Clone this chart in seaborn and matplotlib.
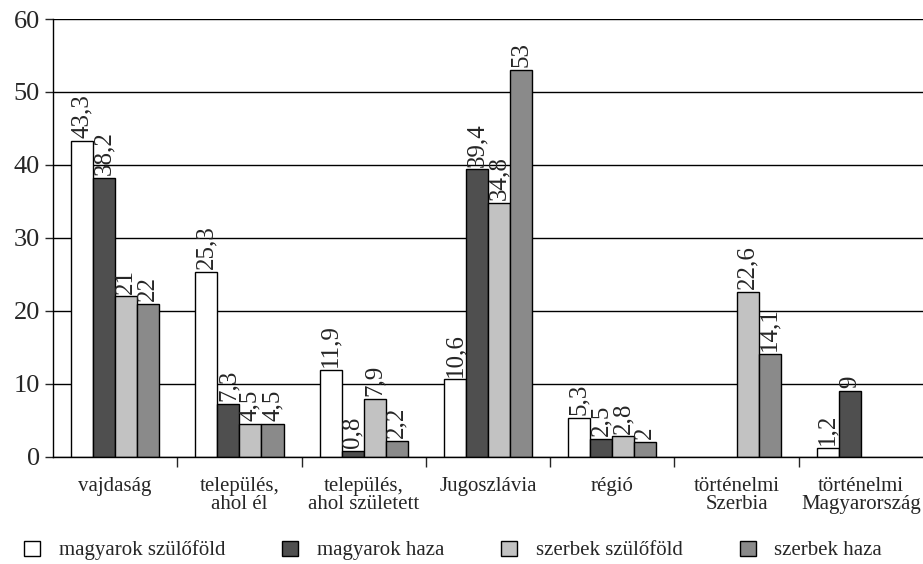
import numpy as np
import pandas as pd
import matplotlib
matplotlib.use("Agg")
import matplotlib.pyplot as plt
import seaborn as sns
from matplotlib.ticker import FixedLocator

categories = ["vajdaság", "település,\nahol él", "település,\nahol született",
              "Jugoszlávia", "régió", "történelmi\nSzerbia", "történelmi\nMagyarország"]
series = ["magyarok szülőföld", "magyarok haza", "szerbek szülőföld", "szerbek haza"]

magyar_szulofold = [43.3, 25.3, 11.9, 10.6, 5.3, np.nan, 1.2]
magyar_haza = [38.2, 7.3, 0.8, 39.4, 2.5, np.nan, 9]
szerb_szulofold = [22, 4.5, 7.9, 34.8, 2.8, 22.6, np.nan]
szerb_haza = [21, 4.5, 2.2, 53, 2, 14.1, np.nan]

# labels as printed on the chart (the vajdaság ones are swapped in the original)
magyar_szulofold_lbl = ["43,3", "25,3", "11,9", "10,6", "5,3", "", "1,2"]
magyar_haza_lbl = ["38,2", "7,3", "0,8", "39,4", "2,5", "", "9"]
szerb_szulofold_lbl = ["21", "4,5", "7,9", "34,8", "2,8", "22,6", ""]
szerb_haza_lbl = ["22", "4,5", "2,2", "53", "2", "14,1", ""]

colors = ["#ffffff", "#4f4f4f", "#c2c2c2", "#8a8a8a"]

rows = []
for name, vals, lbls in zip(series,
                            [magyar_szulofold, magyar_haza, szerb_szulofold, szerb_haza],
                            [magyar_szulofold_lbl, magyar_haza_lbl, szerb_szulofold_lbl, szerb_haza_lbl]):
    for cat, v, l in zip(categories, vals, lbls):
        rows.append({"kategoria": cat, "sorozat": name, "ertek": v, "cimke": l})
df = pd.DataFrame(rows)

sns.set_style("white")
plt.rcParams["font.family"] = ["Liberation Serif", "DejaVu Serif"]

fig = plt.figure(figsize=(9.23, 5.64), dpi=100)
ax = fig.add_axes([0.0574, 0.19, 0.9426, 0.7763])

sns.barplot(data=df.dropna(subset=["ertek"]), x="kategoria", y="ertek", hue="sorozat",
            order=categories, hue_order=series, palette=colors, width=0.71,
            edgecolor="black", linewidth=1, saturation=1, ax=ax, legend=True)

for name, cont in zip(series, ax.containers):
    sub = df[(df.sorozat == name)].dropna(subset=["ertek"])
    ax.bar_label(cont, labels=list(sub["cimke"]), rotation=90, padding=2, fontsize=18)

ax.set_ylim(0, 60)
ax.set_xlim(-0.5, 6.5)
ax.set_yticks(range(0, 61, 10))
ax.yaxis.grid(True, color="black", linewidth=1)
ax.set_axisbelow(True)
ax.set_xlabel("")
ax.set_ylabel("")
for s in ["top", "right"]:
    ax.spines[s].set_visible(False)
for s in ["left", "bottom"]:
    ax.spines[s].set_color("black")
    ax.spines[s].set_linewidth(1)

ax.tick_params(axis="y", which="major", left=True, length=6, width=1, labelsize=19, pad=3.5)
ax.tick_params(axis="x", which="major", bottom=False, labelsize=15, pad=11)
ax.xaxis.set_minor_locator(FixedLocator(np.arange(0.5, 6, 1)))
ax.tick_params(axis="x", which="minor", bottom=True, length=7, width=1, direction="out")
for t in ax.get_xticklabels():
    t.set_linespacing(0.95)

handles, labels = ax.get_legend_handles_labels()
ax.get_legend().remove()
fig.legend(handles, labels, loc="center", bbox_to_anchor=(0.491, 0.024), ncol=4,
           frameon=False, fontsize=15, handlelength=0.75, handleheight=0.75,
           columnspacing=2.75, handletextpad=0.9, borderpad=0)

fig.savefig("out.png", dpi=100)
